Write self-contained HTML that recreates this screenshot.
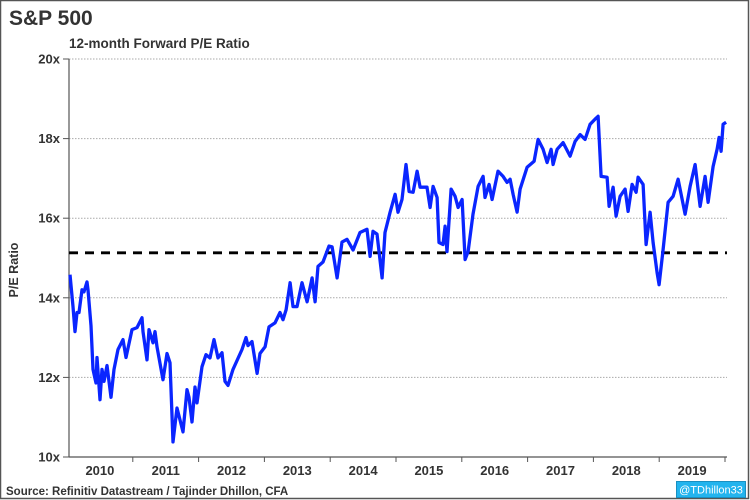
<!DOCTYPE html>
<html><head><meta charset="utf-8"><style>
html,body{margin:0;padding:0;background:#fff;}
svg{display:block;font-family:"Liberation Sans",Arial,sans-serif;}
</style></head><body>
<svg id="chart" width="750" height="500" viewBox="0 0 750 500">
<rect x="0.5" y="0.5" width="748" height="498" fill="#fff" stroke="#555" stroke-width="1.5"/>
<text x="9" y="25" font-size="21" font-weight="bold" fill="#333">S&amp;P 500</text>
<text x="69" y="48" font-size="13.5" font-weight="bold" fill="#333">12-month Forward P/E Ratio</text>
<text transform="translate(18,270) rotate(-90)" text-anchor="middle" font-size="12.5" font-weight="bold" fill="#333">P/E Ratio</text>
<g id="grid"></g>
<g id="yaxis"></g>
<g id="xaxis"></g>
<g id="series"></g>
<text x="6" y="495" font-size="11.5" font-weight="bold" fill="#333">Source: Refinitiv Datastream / Tajinder Dhillon, CFA</text>
<rect x="676.5" y="481.5" width="69" height="16" fill="#22b4ee" stroke="#1a8fc0"/>
<text x="711" y="493.5" text-anchor="middle" font-size="11" fill="#fff">@TDhillon33</text>
</svg>
<script>
const months = [0.55,1.09,1.46,1.82,2.19,2.74,3.10,3.65,3.83,4.38,4.74,5.29,5.47,6.02,6.38,6.75,7.30,8.02,8.57,9.30,10.21,10.76,11.86,12.77,13.68,13.86,14.59,14.96,15.69,16.05,16.42,17.51,18.24,18.79,19.34,20.06,21.16,21.89,22.25,22.80,23.35,23.71,24.62,25.35,26.08,26.81,27.54,28.27,28.82,29.37,30.28,31.92,32.65,33.01,33.74,34.66,35.20,36.12,36.84,37.94,38.85,39.40,39.95,40.68,41.22,41.95,42.86,43.78,44.69,45.24,45.78,46.69,47.79,48.34,49.25,50.16,51.07,52.17,53.44,54.72,55.27,55.81,56.54,57.46,58.00,58.92,59.83,60.37,61.10,61.83,62.38,63.11,63.84,64.39,65.66,66.21,66.76,67.49,67.85,68.58,68.95,69.31,70.04,70.77,71.32,72.05,72.60,73.14,74.05,74.97,75.88,76.24,76.97,77.52,78.61,79.53,80.26,80.80,81.35,82.08,82.63,83.90,85.18,85.91,86.82,87.55,88.28,88.65,89.38,90.47,91.75,92.66,93.57,94.48,95.39,96.31,96.85,97.40,98.50,98.86,99.59,100.14,100.87,101.78,102.33,103.06,103.79,104.15,105.06,105.61,106.34,106.89,107.62,107.98,108.71,109.62,110.53,111.44,112.72,113.64,114.55,115.46,116.37,116.92,117.83,118.56,118.93,119.29,119.66,120.20];
const peValues = [14.58,13.78,13.15,13.63,13.63,14.2,14.15,14.4,14.2,13.3,12.2,11.86,12.5,11.44,12.2,11.9,12.3,11.5,12.2,12.7,12.95,12.5,13.2,13.25,13.5,13.15,12.44,13.2,12.87,13.15,12.77,11.94,12.6,12.37,10.38,11.23,10.63,11.69,11.5,10.88,11.76,11.36,12.27,12.57,12.49,12.95,12.49,12.62,11.9,11.8,12.2,12.7,13.0,12.8,12.9,12.1,12.6,12.77,13.27,13.37,13.63,13.45,13.7,14.38,13.78,13.78,14.38,13.9,14.5,13.9,14.79,14.9,15.3,15.28,14.5,15.4,15.47,15.2,15.64,15.72,15.04,15.67,15.6,14.5,15.64,16.15,16.6,16.15,16.47,17.35,16.67,16.65,17.18,16.78,16.78,16.27,16.8,16.52,15.39,15.34,15.8,15.16,16.73,16.55,16.27,16.47,14.96,15.16,16.1,16.8,17.05,16.52,16.85,16.47,17.18,17.05,16.9,16.98,16.6,16.15,16.73,17.28,17.43,17.98,17.73,17.4,17.73,17.35,17.73,17.9,17.56,17.93,18.1,17.98,18.36,18.49,18.56,17.05,17.03,16.3,16.78,16.05,16.55,16.73,16.17,16.85,16.65,17.03,16.85,15.34,16.15,15.39,14.63,14.33,15.21,16.4,16.55,16.98,16.1,16.8,17.35,16.3,17.05,16.4,17.3,17.73,18.03,17.68,18.36,18.41];
const averagePE = [15.13];
const yTicks = [10,12,14,16,18,20];
const yTickLabels = ["10x","12x","14x","16x","18x","20x"];
const years = ["2010","2011","2012","2013","2014","2015","2016","2017","2018","2019"];

const NS = "http://www.w3.org/2000/svg";
const X0 = 69, X1 = 727, Y0 = 457, Y1 = 59;
const xScale = m => 67 + m * (65.8 / 12);
const yScale = v => Y0 - (v - 10) / 10 * (Y0 - Y1);
function mk(tag, attrs, parent) {
  const e = document.createElementNS(NS, tag);
  for (const k in attrs) e.setAttribute(k, attrs[k]);
  parent.appendChild(e);
  return e;
}
const grid = document.getElementById('grid');
const yaxis = document.getElementById('yaxis');
const xaxis = document.getElementById('xaxis');
const series = document.getElementById('series');

yTicks.forEach((t, i) => {
  const y = yScale(t);
  if (i > 0) {
    const g = mk('line', {x1: X0, x2: X1, y1: y, y2: y, stroke: '#aaa', 'stroke-width': 1, 'stroke-dasharray': '1.5 1.5'}, grid);
    
    
  }
  const tk = mk('line', {x1: 63, x2: X0, y1: y, y2: y, stroke: '#555', 'stroke-width': 1}, yaxis);
  
  
  const lb = mk('text', {x: 60, y: y + 4.5, 'text-anchor': 'end', 'font-size': 13, 'font-weight': 'bold', fill: '#333'}, yaxis);
  lb.textContent = yTickLabels[i];
  
  
});
const ya = mk('line', {x1: X0, x2: X0, y1: Y1, y2: Y0, stroke: '#555', 'stroke-width': 1.2}, yaxis);


const xa = mk('line', {x1: X0, x2: X1, y1: Y0, y2: Y0, stroke: '#555', 'stroke-width': 1.2}, xaxis);


years.forEach((yr, i) => {
  const xb = xScale((i + 1) * 12);
  const tk = mk('line', {x1: xb, x2: xb, y1: Y0, y2: Y0 + 5, stroke: '#555', 'stroke-width': 1}, xaxis);
  
  
  const lb = mk('text', {x: xScale(i * 12 + 6), y: 475, 'text-anchor': 'middle', 'font-size': 13, 'font-weight': 'bold', fill: '#333'}, xaxis);
  lb.textContent = yr;
  
  
});

const avg = mk('line', {x1: X0, x2: X1, y1: yScale(averagePE[0]), y2: yScale(averagePE[0]), stroke: '#000', 'stroke-width': 2.8, 'stroke-dasharray': '9 7'}, series);


const d = months.map((m, i) => (i ? 'L' : 'M') + xScale(m).toFixed(1) + ' ' + yScale(peValues[i]).toFixed(1)).join(' ');
const line = mk('path', {d: d, fill: 'none', stroke: '#0a25ff', 'stroke-width': 3.3, 'stroke-linejoin': 'round'}, series);


</script>
</body></html>
